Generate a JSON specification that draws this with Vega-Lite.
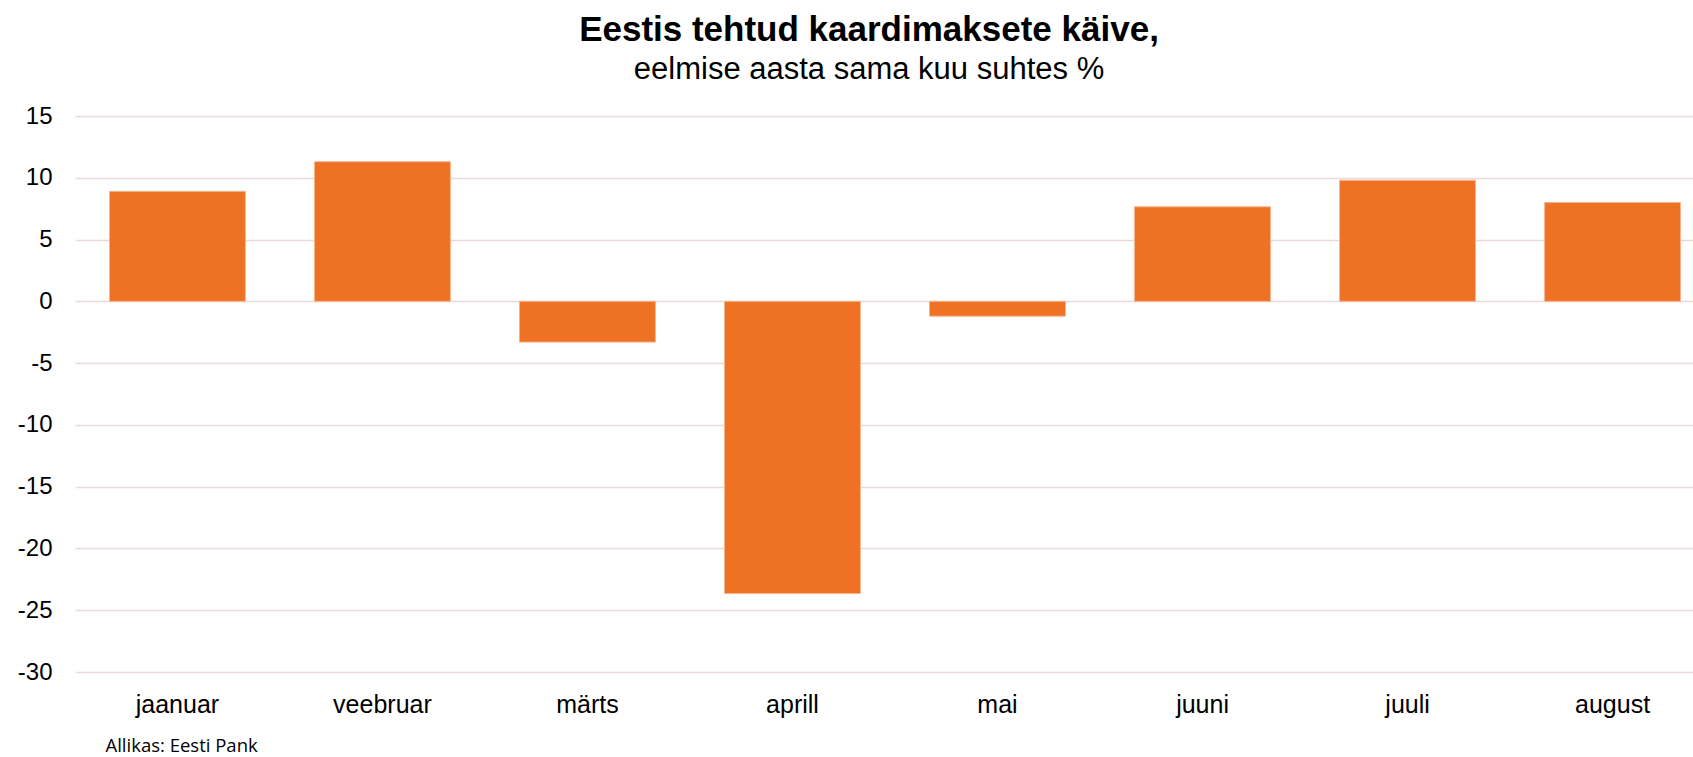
{
  "$schema": "https://vega.github.io/schema/vega-lite/v6.json",
  "autosize": {"type": "none"},
  "width": 1618,
  "height": 556,
  "padding": {"left": 75, "top": 116, "right": 0, "bottom": 85},
  "background": "white",
  "title": {
    "text": "Eestis tehtud kaardimaksete käive,",
    "subtitle": "eelmise aasta sama kuu suhtes %",
    "anchor": "middle",
    "dx": -15,
    "font": "Liberation Sans",
    "fontSize": 35,
    "fontWeight": "bold",
    "color": "#000000",
    "subtitleFont": "Liberation Sans",
    "subtitleFontSize": 31,
    "subtitleColor": "#000000",
    "subtitlePadding": 7,
    "offset": 19
  },
  "data": {
    "values": [
      {"kuu": "jaanuar", "muutus": 8.9},
      {"kuu": "veebruar", "muutus": 11.3},
      {"kuu": "märts", "muutus": -3.3},
      {"kuu": "aprill", "muutus": -23.65},
      {"kuu": "mai", "muutus": -1.2},
      {"kuu": "juuni", "muutus": 7.65},
      {"kuu": "juuli", "muutus": 9.8},
      {"kuu": "august", "muutus": 8.0}
    ]
  },
  "mark": {"type": "bar", "color": "#EE7124", "stroke": "#F6B48A", "strokeWidth": 1},
  "encoding": {
    "x": {
      "field": "kuu",
      "type": "nominal",
      "sort": null,
      "scale": {"range": [0, 1640], "paddingInner": 0.337, "paddingOuter": 0.168},
      "axis": {
        "title": "Allikas: Eesti Pank",
        "titleFont": "Open Sans",
        "titleFontSize": 18.5,
        "titleFontWeight": "normal",
        "titleColor": "#000000",
        "titleAnchor": "start",
        "titleAlign": "left",
        "titleBaseline": "alphabetic",
        "titleX": 30,
        "titleY": 79,
        "labelAngle": 0,
        "labelFont": "Liberation Sans",
        "labelFontSize": 25,
        "labelColor": "#000000",
        "labelPadding": 20,
        "ticks": false,
        "tickSize": 0,
        "domain": false,
        "grid": false
      }
    },
    "y": {
      "field": "muutus",
      "type": "quantitative",
      "scale": {"domain": [-30, 15], "nice": false, "zero": true},
      "axis": {
        "title": null,
        "values": [-30, -25, -20, -15, -10, -5, 0, 5, 10, 15],
        "labelExpr": "toString(datum.value)",
        "labelFont": "Liberation Sans",
        "labelFontSize": 24,
        "labelColor": "#000000",
        "labelPadding": 23,
        "ticks": false,
        "tickSize": 0,
        "domain": false,
        "grid": true,
        "gridColor": "#EAD9DA",
        "gridWidth": 1.6
      }
    }
  },
  "config": {"view": {"stroke": null}}
}
